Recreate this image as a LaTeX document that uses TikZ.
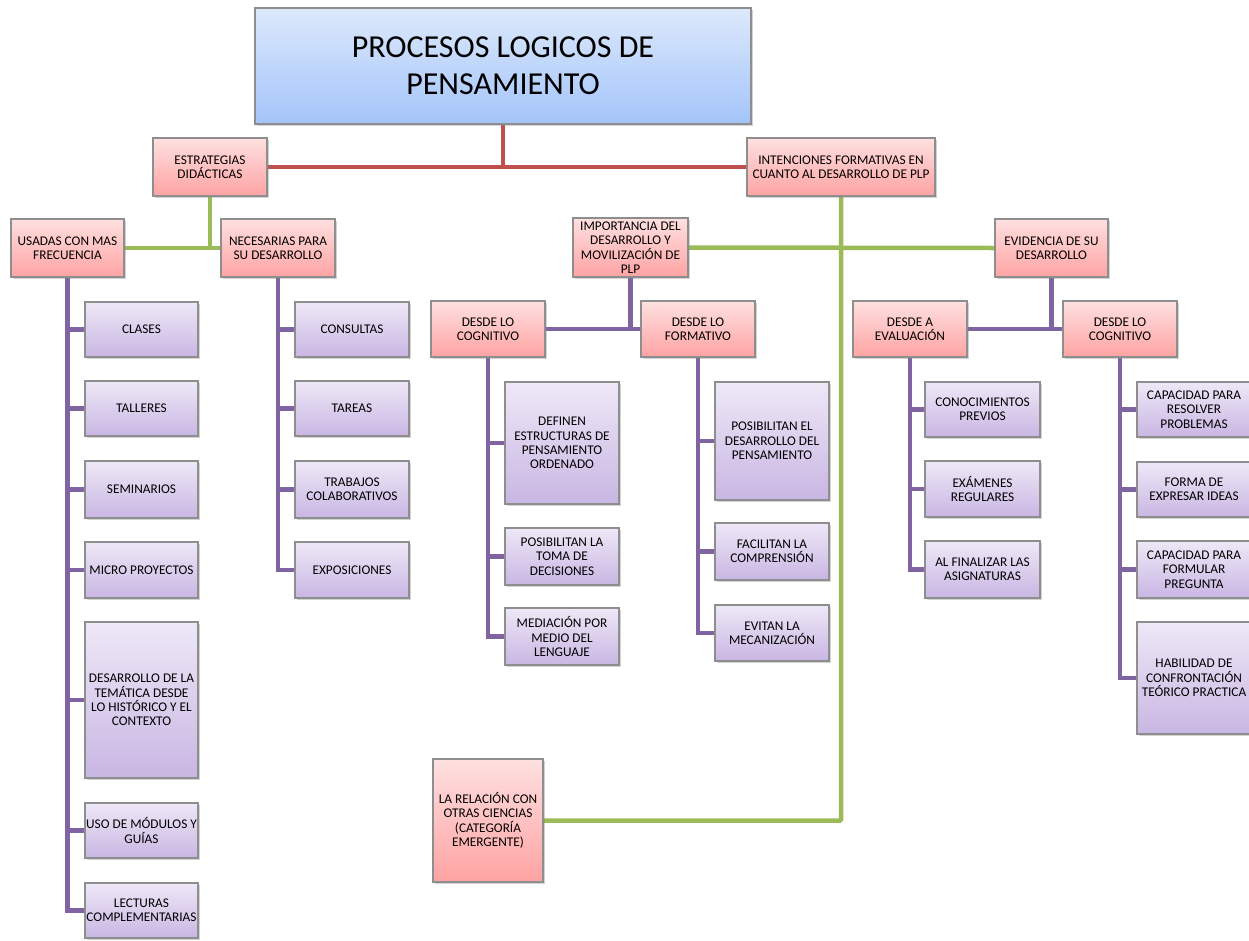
\documentclass[tikz,border=0pt]{standalone}
\usepackage{fontspec}
\setmainfont{Carlito}
\usetikzlibrary{shadows,backgrounds}
\definecolor{redline}{HTML}{C0504D}
\definecolor{greenline}{HTML}{9BBB59}
\definecolor{purpline}{HTML}{8064A2}
\definecolor{pinktop}{HTML}{FFE0E0}
\definecolor{pinkbot}{HTML}{FFA3A3}
\definecolor{purptop}{HTML}{EEE8F7}
\definecolor{purpbot}{HTML}{C9B6E3}
\definecolor{bluetop}{HTML}{DDE9FC}
\definecolor{bluebot}{HTML}{A3C4FA}
\definecolor{boxedge}{HTML}{8E8E8E}
\tikzset{
  basebox/.style={draw=boxedge, line width=1.3pt, shading=axis, align=center,
    inner sep=1pt, font=\fontsize{13.3}{14.4}\selectfont,
    drop shadow={shadow xshift=1.5pt, shadow yshift=-1.8pt, opacity=0.35}},
  pinkbox/.style={basebox, top color=pinktop, bottom color=pinkbot},
  purpbox/.style={basebox, top color=purptop, bottom color=purpbot},
  bluebox/.style={basebox, top color=bluetop, bottom color=bluebot,
    font=\fontsize{32}{37}\selectfont},
  redc/.style={draw=redline, line width=4.5pt},
  greenc/.style={draw=greenline, line width=4.5pt},
  purpc/.style={draw=purpline, line width=4.5pt},
}
\begin{document}
\begin{tikzpicture}[x=1pt,y=-1pt]
\useasboundingbox (0,0) rectangle (1249,940);
% --- nodes
\node[bluebox, minimum width=496pt, minimum height=116pt] (title) at (503,66) {PROCESOS LOGICOS DE\\PENSAMIENTO};
\node[pinkbox, minimum width=114pt, minimum height=58pt] (estr) at (210,167) {ESTRATEGIAS\\DIDÁCTICAS};
\node[pinkbox, minimum width=188pt, minimum height=58pt] (inten) at (841,167) {INTENCIONES FORMATIVAS EN\\CUANTO AL DESARROLLO DE PLP};
\node[pinkbox, minimum width=113pt, minimum height=58pt] (usadas) at (67.5,248) {USADAS CON MAS\\FRECUENCIA};
\node[pinkbox, minimum width=114pt, minimum height=58pt] (neces) at (278,248) {NECESARIAS PARA\\SU DESARROLLO};
\node[pinkbox, minimum width=115pt, minimum height=59pt] (impor) at (630.5,247.5) {IMPORTANCIA DEL\\DESARROLLO Y\\MOVILIZACIÓN DE\\PLP};
\node[pinkbox, minimum width=113pt, minimum height=58pt] (evid) at (1051.5,248) {EVIDENCIA DE SU\\DESARROLLO};
\node[pinkbox, minimum width=114pt, minimum height=56pt] (cogA) at (488,329) {DESDE LO\\COGNITIVO};
\node[pinkbox, minimum width=114pt, minimum height=56pt] (form) at (698,329) {DESDE LO\\FORMATIVO};
\node[pinkbox, minimum width=114pt, minimum height=56pt] (eval) at (910,329) {DESDE A\\EVALUACIÓN};
\node[pinkbox, minimum width=114pt, minimum height=56pt] (cogB) at (1120,329) {DESDE LO\\COGNITIVO};
\node[pinkbox, minimum width=110pt, minimum height=123pt] (rel) at (488,820.5) {LA RELACIÓN CON\\OTRAS CIENCIAS\\(CATEGORÍA\\EMERGENTE)};
% left column
\node[purpbox, minimum width=113pt, minimum height=55pt] (clases) at (141.5,329.5) {CLASES};
\node[purpbox, minimum width=113pt, minimum height=55pt] (talleres) at (141.5,408.5) {TALLERES};
\node[purpbox, minimum width=113pt, minimum height=57pt] (semin) at (141.5,489.5) {SEMINARIOS};
\node[purpbox, minimum width=113pt, minimum height=56pt] (micro) at (141.5,570) {MICRO PROYECTOS};
\node[purpbox, minimum width=113pt, minimum height=156pt] (desar) at (141.5,700) {DESARROLLO DE LA\\TEMÁTICA DESDE\\LO HISTÓRICO Y EL\\CONTEXTO};
\node[purpbox, minimum width=113pt, minimum height=55pt] (modulos) at (141.5,830.5) {USO DE MÓDULOS Y\\GUÍAS};
\node[purpbox, minimum width=113pt, minimum height=55pt] (lect) at (141.5,910.5) {LECTURAS\\COMPLEMENTARIAS};
% necesarias column
\node[purpbox, minimum width=114pt, minimum height=55pt] (consul) at (352,329.5) {CONSULTAS};
\node[purpbox, minimum width=114pt, minimum height=55pt] (tareas) at (352,408.5) {TAREAS};
\node[purpbox, minimum width=114pt, minimum height=57pt] (trab) at (352,489.5) {TRABAJOS\\COLABORATIVOS};
\node[purpbox, minimum width=114pt, minimum height=56pt] (expo) at (352,570) {EXPOSICIONES};
% cognitivo A column
\node[purpbox, minimum width=114pt, minimum height=122pt] (defin) at (562,443) {DEFINEN\\ESTRUCTURAS DE\\PENSAMIENTO\\ORDENADO};
\node[purpbox, minimum width=114pt, minimum height=57pt] (toma) at (562,556.5) {POSIBILITAN LA\\TOMA DE\\DECISIONES};
\node[purpbox, minimum width=114pt, minimum height=57pt] (media) at (562,636.5) {MEDIACIÓN POR\\MEDIO DEL\\LENGUAJE};
% formativo column
\node[purpbox, minimum width=114pt, minimum height=118pt] (posdes) at (772,441) {POSIBILITAN EL\\DESARROLLO DEL\\PENSAMIENTO};
\node[purpbox, minimum width=114pt, minimum height=57pt] (facil) at (772,551.5) {FACILITAN LA\\COMPRENSIÓN};
\node[purpbox, minimum width=114pt, minimum height=56pt] (evitan) at (772,633) {EVITAN LA\\MECANIZACIÓN};
% evaluacion column
\node[purpbox, minimum width=115pt, minimum height=55pt] (conoc) at (982.5,409.5) {CONOCIMIENTOS\\PREVIOS};
\node[purpbox, minimum width=115pt, minimum height=56pt] (exam) at (982.5,489) {EXÁMENES\\REGULARES};
\node[purpbox, minimum width=115pt, minimum height=57pt] (final) at (982.5,569.5) {AL FINALIZAR LAS\\ASIGNATURAS};
% cognitivo B column
\node[purpbox, minimum width=114pt, minimum height=55pt] (resol) at (1194,409.5) {CAPACIDAD PARA\\RESOLVER\\PROBLEMAS};
\node[purpbox, minimum width=114pt, minimum height=55pt] (expre) at (1194,489.5) {FORMA DE\\EXPRESAR IDEAS};
\node[purpbox, minimum width=114pt, minimum height=57pt] (formu) at (1194,569.5) {CAPACIDAD PARA\\FORMULAR\\PREGUNTA};
\node[purpbox, minimum width=114pt, minimum height=112pt] (habil) at (1194,678) {HABILIDAD DE\\CONFRONTACIÓN\\TEÓRICO PRACTICA};
% --- connectors
\begin{pgfonlayer}{background}
\draw[redc] (title.south) -- (title.south |- estr.east);
\draw[redc] (estr.east) -- (inten.west);
\draw[greenc] (estr.south) -- (estr.south |- usadas.east);
\draw[greenc] (usadas.east) -- (neces.west);
\draw[greenc, rounded corners=1pt] (inten.south) |- (rel.east);
\draw[greenc] (impor.east) -- (evid.west);
\draw[purpc] (impor.south) -- (impor.south |- cogA.east);
\draw[purpc] (cogA.east) -- (form.west);
\draw[purpc] (evid.south) -- (evid.south |- eval.east);
\draw[purpc] (eval.east) -- (cogB.west);
\foreach \c in {clases,talleres,semin,micro,desar,modulos,lect} {\draw[purpc] (usadas.south) |- (\c.west);}
\foreach \c in {consul,tareas,trab,expo} {\draw[purpc] (neces.south) |- (\c.west);}
\foreach \c in {defin,toma,media} {\draw[purpc] (cogA.south) |- (\c.west);}
\foreach \c in {posdes,facil,evitan} {\draw[purpc] (form.south) |- (\c.west);}
\foreach \c in {conoc,exam,final} {\draw[purpc] (eval.south) |- (\c.west);}
\foreach \c in {resol,expre,formu,habil} {\draw[purpc] (cogB.south) |- (\c.west);}
\end{pgfonlayer}
\end{tikzpicture}
\end{document}
